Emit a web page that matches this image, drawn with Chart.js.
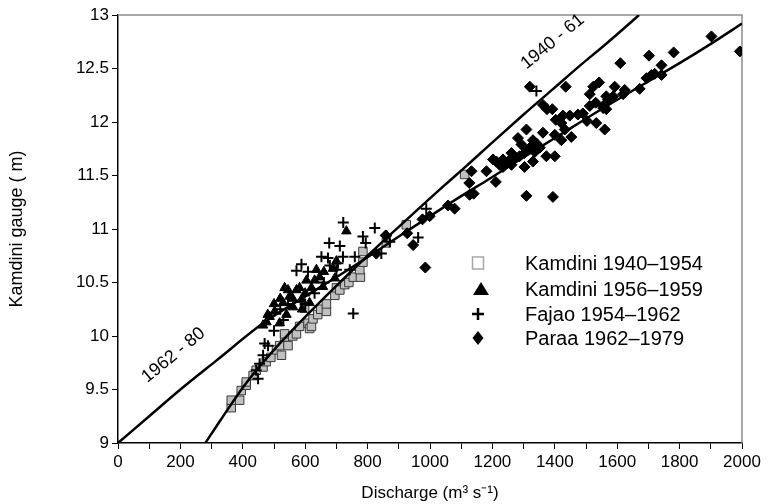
<!DOCTYPE html>
<html>
<head>
<meta charset="utf-8">
<script src="https://cdn.jsdelivr.net/npm/chart.js@4.4.1/dist/chart.umd.min.js"></script>
<style>
  html, body { margin: 0; padding: 0; background: #fff; }
</style>
</head>
<body>
<canvas id="rating" width="771" height="504"></canvas>
<script>
// Kamdini gauge: rating curves and gaugings at the three sites

// rating curves (discharge m3/s, stage m)
const curve4061Q = [280, 330, 411, 500, 604, 711, 800, 900, 1047, 1117, 1200, 1300, 1395, 1490, 1544, 1600, 1670];
const curve4061H = [9.00, 9.22, 9.56, 9.87, 10.19, 10.50, 10.75, 11.02, 11.41, 11.59, 11.81, 12.07, 12.31, 12.55, 12.68, 12.82, 13.00];
const curve6280Q = [0, 100, 200, 315, 470, 600, 711, 807, 900, 1000, 1096, 1191, 1300, 1400, 1544, 1700, 1800, 1900, 2000];
const curve6280H = [9.00, 9.25, 9.50, 9.77, 10.13, 10.37, 10.57, 10.75, 10.93, 11.12, 11.30, 11.47, 11.67, 11.85, 12.11, 12.38, 12.55, 12.73, 12.92];

// Kamdini 1940-1954
const kam4054Q = [363, 363, 390, 395, 411, 411, 433, 443, 465, 475, 490, 508, 518, 524, 534, 534, 545, 560, 572, 582, 598, 609, 614, 620, 625, 640, 650, 668, 668, 695, 700, 711, 727, 740, 754, 777, 775, 785, 785, 860, 924, 1111];
const kam4054H = [9.33, 9.40, 9.40, 9.49, 9.54, 9.57, 9.63, 9.68, 9.71, 9.76, 9.80, 9.87, 9.91, 9.82, 9.99, 10.02, 9.91, 10.00, 10.02, 10.09, 10.26, 10.12, 10.07, 10.09, 10.16, 10.20, 10.25, 10.23, 10.30, 10.38, 10.45, 10.43, 10.48, 10.50, 10.55, 10.55, 10.62, 10.69, 10.79, 10.87, 11.04, 11.51];

// Kamdini 1956-1959
const kam5659Q = [465, 476, 480, 486, 500, 502, 518, 520, 529, 534, 540, 545, 550, 560, 561, 572, 582, 588, 590, 600, 604, 614, 620, 630, 636, 646, 657, 660, 689, 695, 700, 732];
const kam5659H = [10.10, 10.13, 10.20, 10.18, 10.30, 10.23, 10.12, 10.35, 10.31, 10.45, 10.20, 10.43, 10.37, 10.35, 10.27, 10.43, 10.45, 10.34, 10.25, 10.40, 10.52, 10.31, 10.45, 10.52, 10.62, 10.55, 10.46, 10.60, 10.63, 10.54, 10.70, 10.98];

// Fajao 1954-1962
const faj5462Q = [443, 449, 454, 465, 470, 481, 500, 520, 530, 545, 572, 588, 600, 609, 630, 652, 660, 673, 677, 679, 700, 705, 711, 721, 722, 743, 754, 759, 785, 794, 823, 844, 860, 871, 962, 988, 1341];
const faj5462H = [9.68, 9.60, 9.74, 9.82, 9.93, 9.91, 10.05, 10.25, 10.15, 10.30, 10.61, 10.67, 10.30, 10.60, 10.40, 10.74, 10.50, 10.73, 10.87, 10.66, 10.62, 10.68, 10.84, 10.74, 11.06, 10.62, 10.21, 10.74, 10.93, 10.87, 11.01, 10.77, 10.94, 10.88, 10.92, 11.19, 12.29];

// Paraa 1962-1979
const par6279Q = [828, 858, 927, 946, 976, 985, 999, 1058, 1079, 1126, 1127, 1133, 1140, 1181, 1202, 1211, 1213, 1223, 1234, 1234, 1250, 1261, 1261, 1271, 1282, 1287, 1293, 1303, 1303, 1309, 1309, 1320, 1320, 1330, 1330, 1336, 1341, 1352, 1362, 1362, 1373, 1375, 1392, 1394, 1400, 1400, 1403, 1421, 1421, 1426, 1432, 1435, 1448, 1453, 1474, 1490, 1503, 1512, 1512, 1523, 1531, 1533, 1542, 1555, 1555, 1560, 1565, 1565, 1571, 1587, 1592, 1610, 1619, 1624, 1672, 1694, 1702, 1710, 1720, 1742, 1742, 1781, 1902, 1993];
const par6279H = [10.77, 10.94, 10.96, 10.85, 11.09, 10.64, 11.12, 11.22, 11.19, 11.43, 11.32, 11.54, 11.33, 11.54, 11.65, 11.44, 11.63, 11.60, 11.65, 11.58, 11.63, 11.71, 11.60, 11.66, 11.85, 11.68, 11.79, 11.71, 11.58, 11.93, 11.31, 12.33, 11.76, 11.83, 11.63, 11.72, 11.80, 11.76, 12.16, 11.90, 11.68, 12.12, 12.12, 11.30, 11.88, 11.68, 12.02, 11.99, 11.83, 12.06, 11.93, 12.33, 12.06, 11.86, 12.07, 12.08, 12.01, 12.26, 12.15, 12.33, 12.18, 11.99, 12.37, 12.15, 12.13, 11.93, 12.24, 12.12, 12.21, 12.24, 12.33, 12.55, 12.26, 12.30, 12.31, 12.41, 12.62, 12.44, 12.45, 12.53, 12.44, 12.65, 12.80, 12.66];

const seriesNames = ['Kamdini 1940\u20131954', 'Kamdini 1956\u20131959', 'Fajao 1954\u20131962', 'Paraa 1962\u20131979'];

// curve labels, placed in data units
const noteText = ['1940 - 61', '1962 - 80'];
const noteQ = [1393, 178];
const noteH = [12.75, 9.82];

const ink = '#000';
const fam = '"Liberation Sans", Arial, sans-serif';

function pts(qs, hs) {
    return qs.map((q, i) => ({x: q, y: hs[i]}));
}

const extras = {
    id: 'extras',
    beforeDatasetsDraw(chart) {
        // light grey frame on top and right
        const {ctx, chartArea: a} = chart;
        ctx.save();
        ctx.strokeStyle = '#8c8c8c';
        ctx.lineWidth = 1.5;
        ctx.beginPath();
        ctx.moveTo(a.left, a.top);
        ctx.lineTo(a.right, a.top);
        ctx.lineTo(a.right, a.bottom);
        ctx.stroke();
        ctx.restore();
    },
    afterDraw(chart) {
        const {ctx, scales: {x, y}} = chart;
        ctx.save();
        ctx.fillStyle = ink;
        ctx.font = '18px ' + fam;
        ctx.textAlign = 'center';
        ctx.textBaseline = 'middle';
        for (var i = 0; i < noteText.length; i++) {
            ctx.save();
            ctx.translate(x.getPixelForValue(noteQ[i]), y.getPixelForValue(noteH[i]));
            ctx.rotate(-0.69);
            ctx.fillText(noteText[i], 0, 0);
            ctx.restore();
        }

        // legend inside the plot
        var lx = 478, ly = [263, 289, 314, 338], tx = 525;
        // hollow square
        ctx.fillStyle = '#fff';
        ctx.strokeStyle = '#a6a6a6';
        ctx.lineWidth = 1.5;
        ctx.fillRect(lx - 5.5, ly[0] - 6, 11, 12);
        ctx.strokeRect(lx - 5.5, ly[0] - 6, 11, 12);
        // triangle
        ctx.fillStyle = ink;
        ctx.beginPath();
        ctx.moveTo(lx + 3, ly[1] - 7);
        ctx.lineTo(lx + 11, ly[1] + 6);
        ctx.lineTo(lx - 5, ly[1] + 6);
        ctx.closePath();
        ctx.fill();
        // cross
        ctx.strokeStyle = ink;
        ctx.lineWidth = 2.5;
        ctx.beginPath();
        ctx.moveTo(lx - 6, ly[2]); ctx.lineTo(lx + 6, ly[2]);
        ctx.moveTo(lx, ly[2] - 6); ctx.lineTo(lx, ly[2] + 6);
        ctx.stroke();
        // diamond
        ctx.beginPath();
        ctx.moveTo(lx, ly[3] - 7);
        ctx.lineTo(lx + 5.5, ly[3]);
        ctx.lineTo(lx, ly[3] + 7);
        ctx.lineTo(lx - 5.5, ly[3]);
        ctx.closePath();
        ctx.fill();

        ctx.font = '20px ' + fam;
        ctx.textAlign = 'left';
        for (var j = 0; j < seriesNames.length; j++) {
            ctx.fillText(seriesNames[j], tx, ly[j] + 1);
        }
        ctx.restore();
    }
};

new Chart('rating', {
    type: 'scatter',
    data: {
        datasets: [
            {label: '1940 - 61', data: pts(curve4061Q, curve4061H), showLine: true, borderColor: ink, borderWidth: 2.5,
             pointRadius: 0, cubicInterpolationMode: 'monotone', order: 0},
            {label: '1962 - 80', data: pts(curve6280Q, curve6280H), showLine: true, borderColor: ink, borderWidth: 2.5,
             pointRadius: 0, cubicInterpolationMode: 'monotone', order: 0},
            {label: seriesNames[0], data: pts(kam4054Q, kam4054H), pointStyle: 'rect', pointRadius: 6,
             backgroundColor: '#c0c0c0', borderColor: '#3a3a3a', borderWidth: 1, order: 4},
            {label: seriesNames[1], data: pts(kam5659Q, kam5659H), pointStyle: 'triangle', pointRadius: 5.5,
             backgroundColor: ink, borderColor: ink, borderWidth: 1, order: 3},
            {label: seriesNames[2], data: pts(faj5462Q, faj5462H), pointStyle: 'cross', pointRadius: 5.5,
             borderColor: ink, borderWidth: 2, order: 2},
            {label: seriesNames[3], data: pts(par6279Q, par6279H), pointStyle: 'rectRot', pointRadius: 5.5,
             backgroundColor: ink, borderColor: ink, borderWidth: 1, order: 1}
        ]
    },
    options: {
        responsive: false,
        animation: false,
        devicePixelRatio: 1,
        layout: {padding: {top: 15, right: 29, left: 0, bottom: 0}},
        plugins: {legend: {display: false}, tooltip: {enabled: false}},
        scales: {
            x: {
                type: 'linear', min: 0, max: 2000,
                ticks: {stepSize: 100, autoSkip: false, maxRotation: 0, color: ink, padding: 3,
                        font: {family: fam, size: 17},
                        callback: v => (v % 200 === 0 ? String(v) : '')},
                grid: {drawOnChartArea: false, tickLength: 6, color: ink, lineWidth: 1},
                border: {color: ink, width: 1.5},
                title: {display: true, text: 'Discharge (m\u00b3 s\u207b\u00b9)', color: ink,
                        font: {family: fam, size: 17}, padding: {top: 0, bottom: 0}},
                afterFit: s => { s.height = 61; }
            },
            y: {
                type: 'linear', min: 9, max: 13,
                ticks: {stepSize: 0.5, color: ink, padding: 3, font: {family: fam, size: 17},
                        callback: v => String(v)},
                grid: {drawOnChartArea: false, tickLength: 6, color: ink, lineWidth: 1},
                border: {color: ink, width: 1.5},
                title: {display: true, text: 'Kamdini gauge ( m)', color: ink,
                        font: {family: fam, size: 18}, padding: {top: 6, bottom: 0}},
                afterFit: s => { s.width = 118; }
            }
        }
    },
    plugins: [extras]
});
</script>
</body>
</html>
